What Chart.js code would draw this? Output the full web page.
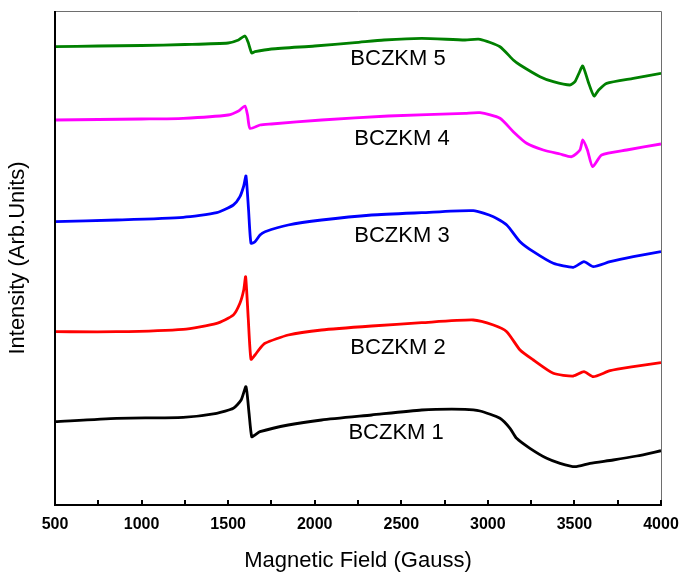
<!DOCTYPE html>
<html>
<head>
<meta charset="utf-8">
<script src="https://cdn.jsdelivr.net/npm/chart.js@4/dist/chart.umd.min.js"></script>
<style>
  html, body { margin: 0; padding: 0; background: #fff; }
</style>
</head>
<body>
<canvas id="eprChart" width="681" height="574"></canvas>
<script>
// magnetic field (Gauss) and intensity (arb. units)
const field1 = [500, 856, 1240, 1434, 1530, 1575, 1603, 1620, 1636, 1655, 1684, 1847, 2040, 2329, 2618, 2868, 2955, 3070, 3128, 3166, 3243, 3340, 3417, 3503, 3590, 3724, 3860, 4000];
const bczkm1 = [83.3, 86.7, 87.7, 91.7, 96.7, 105, 118.3, 93, 68.3, 70, 73.3, 80, 85, 90, 95, 95.7, 94, 86.7, 76.7, 66.7, 56.7, 46.7, 41.7, 38.3, 41.7, 45, 49, 54.3];

const field2 = [500, 856, 1240, 1434, 1530, 1568, 1590, 1601, 1616, 1632, 1655, 1684, 1713, 1847, 2040, 2329, 2618, 2916, 3032, 3109, 3186, 3263, 3378, 3494, 3555, 3609, 3706, 3840, 4000];
const bczkm2 = [173.3, 173.3, 175.7, 181.7, 190, 201.7, 215, 228.3, 187, 145.7, 150, 156.7, 161.7, 170, 175, 179, 182.3, 185, 180, 173.3, 155, 145, 131.7, 129, 133.3, 128.3, 134.3, 138.3, 142.3];

const field3 = [500, 856, 1240, 1434, 1530, 1568, 1590, 1603, 1618, 1632, 1655, 1684, 1713, 1847, 2040, 2329, 2618, 2916, 3032, 3109, 3186, 3263, 3378, 3494, 3555, 3609, 3706, 3840, 4000];
const bczkm3 = [283.3, 285, 287.7, 292.3, 300, 308.3, 319, 329, 295, 261.7, 263.3, 270, 273.3, 280, 285, 290, 292.3, 294.3, 288.3, 280, 263.3, 253.3, 241.7, 237.7, 243.3, 238.3, 243.3, 248.3, 253.3];

const field4 = [500, 750, 1000, 1240, 1500, 1560, 1597, 1612, 1626, 1684, 1750, 2040, 2425, 2868, 2955, 3070, 3147, 3224, 3320, 3417, 3484, 3532, 3548, 3575, 3605, 3657, 3802, 4000];
const bczkm4 = [385, 385.5, 386, 386.7, 390, 394, 399, 390, 376.7, 380, 381, 385, 389, 391.7, 392.3, 386.7, 373.3, 361.7, 355, 351, 348.3, 355, 365, 355, 338.3, 350, 355, 361];

const field5 = [500, 750, 1000, 1250, 1500, 1560, 1597, 1615, 1636, 1655, 1750, 2000, 2233, 2400, 2618, 2868, 2955, 3070, 3147, 3186, 3301, 3378, 3474, 3503, 3526, 3548, 3580, 3613, 3640, 3686, 3840, 4000];
const bczkm5 = [458.3, 459, 459.5, 460.5, 462, 465, 469, 463, 452, 453.3, 456, 459, 462.3, 465, 466.7, 465, 465.7, 458.3, 445, 440, 428.3, 423.3, 420, 423.3, 431.7, 439, 423, 409, 415, 421.7, 426.7, 431.7];

const seriesNames = ['BCZKM 1', 'BCZKM 2', 'BCZKM 3', 'BCZKM 4', 'BCZKM 5'];
const seriesColors = ['#000000', '#ff0000', '#0000ff', '#ff00ff', '#008000'];
// label anchor points (field, intensity)
const labelField = [2470, 2481, 2504, 2504, 2481];
const labelLevel = [72, 157.5, 269.5, 366, 446];

const xLabelValues = [500, 1000, 1500, 2000, 2500, 3000, 3500, 4000];
const xTickValues = [500, 750, 1000, 1250, 1500, 1750, 2000, 2250, 2500, 2750, 3000, 3250, 3500, 3750, 4000];

const fields = [field1, field2, field3, field4, field5];
const values = [bczkm1, bczkm2, bczkm3, bczkm4, bczkm5];

const datasets = seriesNames.map((name, i) => ({
    label: name,
    data: fields[i].map((f, j) => ({x: f, y: values[i][j]})),
    borderColor: seriesColors[i],
    backgroundColor: seriesColors[i],
    borderWidth: 2.8,
    pointRadius: 0,
    tension: 0.2,
    fill: false
}));

// frame, inward ticks and curve labels
const framePlugin = {
    id: 'frame',
    afterDatasetsDraw(chart) {
        const {ctx, chartArea: a, scales: {x, y}} = chart;
        ctx.save();
        ctx.strokeStyle = '#6e6e6e';
        ctx.lineWidth = 1;
        ctx.beginPath();
        ctx.moveTo(a.left, a.top + 0.5);
        ctx.lineTo(a.right + 0.5, a.top + 0.5);
        ctx.lineTo(a.right + 0.5, a.bottom);
        ctx.stroke();

        ctx.strokeStyle = '#000';
        ctx.lineWidth = 2;
        ctx.beginPath();
        ctx.moveTo(a.left, a.top);
        ctx.lineTo(a.left, a.bottom);
        ctx.lineTo(a.right + 1, a.bottom);
        xTickValues.forEach(v => {
            const px = Math.round(x.getPixelForValue(v));
            ctx.moveTo(px, a.bottom);
            ctx.lineTo(px, a.bottom - 5);
        });
        ctx.stroke();

        ctx.fillStyle = '#000';
        ctx.font = '22px Arial, "Liberation Sans", sans-serif';
        ctx.textAlign = 'center';
        ctx.textBaseline = 'middle';
        seriesNames.forEach((name, i) => {
            ctx.fillText(name, x.getPixelForValue(labelField[i]), y.getPixelForValue(labelLevel[i]));
        });
        ctx.restore();
    }
};

const ctx = document.getElementById('eprChart').getContext('2d');
new Chart(ctx, {
    type: 'line',
    data: { datasets: datasets },
    options: {
        responsive: false,
        animation: false,
        layout: { padding: { top: 11, right: 20, left: 0, bottom: 0 } },
        plugins: {
            legend: { display: false },
            tooltip: { enabled: false }
        },
        scales: {
            x: {
                type: 'linear',
                min: 500,
                max: 4000,
                afterFit: s => { s.height = 69; s.paddingLeft = 0; s.paddingRight = 0; },
                afterBuildTicks: s => { s.ticks = xLabelValues.map(v => ({value: v})); },
                grid: { display: false, drawTicks: false },
                border: { display: false },
                ticks: {
                    padding: 10,
                    color: '#000',
                    callback: v => String(v),
                    font: { family: 'Arial, "Liberation Sans", sans-serif', size: 16, weight: 'bold' }
                },
                title: {
                    display: true,
                    text: 'Magnetic Field (Gauss)',
                    color: '#000',
                    font: { family: 'Arial, "Liberation Sans", sans-serif', size: 22, lineHeight: 1 },
                    padding: { top: 0, bottom: 2 }
                }
            },
            y: {
                min: 0,
                max: 494,
                afterFit: s => { s.width = 55; },
                grid: { display: false, drawTicks: false },
                border: { display: false },
                ticks: { display: false },
                title: {
                    display: true,
                    text: 'Intensity (Arb.Units)',
                    color: '#000',
                    font: { family: 'Arial, "Liberation Sans", sans-serif', size: 22, lineHeight: 1 },
                    padding: { top: 7, bottom: 0 }
                }
            }
        }
    },
    plugins: [framePlugin]
});
</script>
</body>
</html>
